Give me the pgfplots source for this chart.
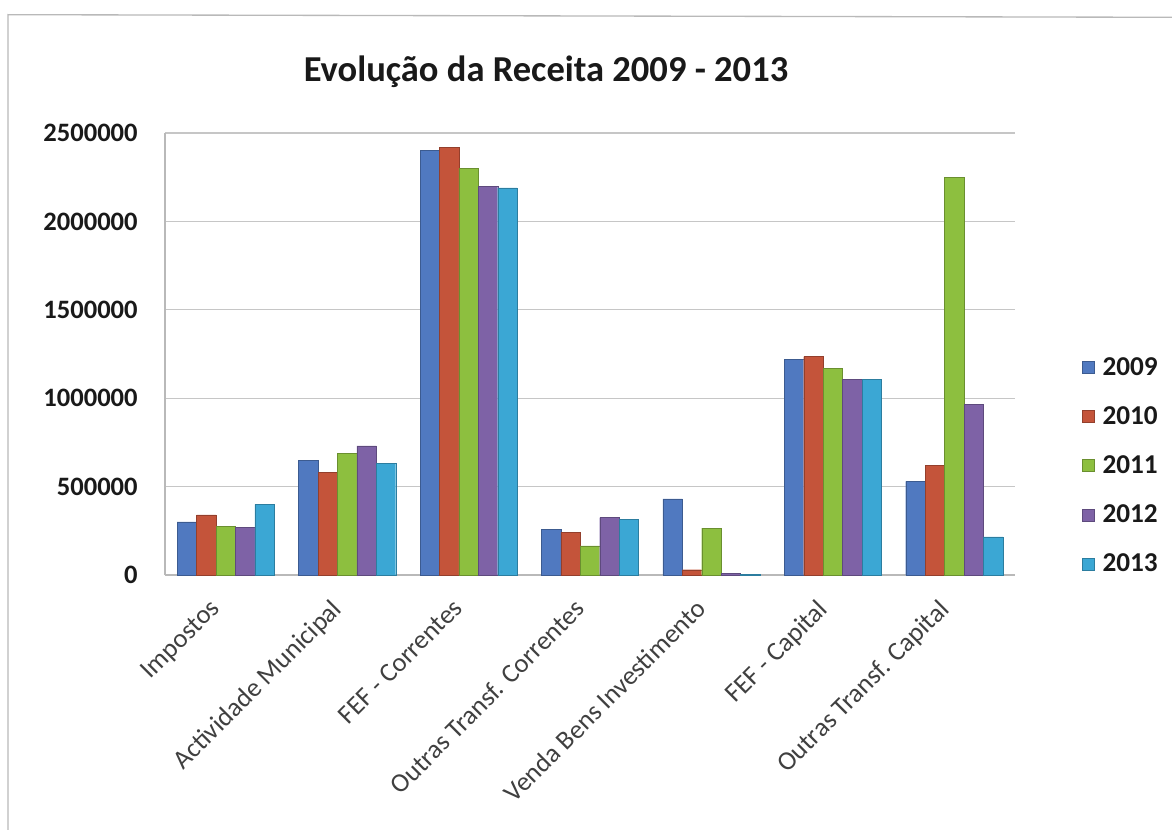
\documentclass[border=0pt]{standalone}
\usepackage{fontspec}
\setmainfont{Carlito}
\usepackage{pgfplots}
\usepackage{pgfplotstable}
\pgfplotsset{compat=1.18}
\definecolor{c09}{HTML}{5079C0}
\definecolor{c10}{HTML}{C4543A}
\definecolor{c11}{HTML}{8DBF3F}
\definecolor{c12}{HTML}{7E62A6}
\definecolor{c13}{HTML}{3BA7D4}
\pgfplotstableread{
x y09 y10 y11 y12 y13
0 300000 340000 275000 270000 400000
1 650000 580000 690000 730000 630000
2 2400000 2420000 2300000 2200000 2190000
3 260000 240000 165000 325000 315000
4 430000 30000 265000 10000 5000
5 1220000 1235000 1170000 1105000 1105000
6 530000 620000 2250000 965000 215000
}\data
\begin{document}
\begin{tikzpicture}
\useasboundingbox (0bp,0bp) rectangle (879bp,-622.5bp);
\draw[gray!55, line width=1bp] (6bp,-640bp) -- (6bp,-11bp) -- (890bp,-13bp);
\node[font=\fontsize{27.5}{33}\selectfont\bfseries, text=black!90] at (409.5bp,-54bp) {Evolução da Receita 2009 - 2013};
\begin{axis}[
  at={(123.75bp,-431.25bp)}, anchor=south west,
  scale only axis, width=637.5bp, height=331.5bp,
  ybar=0pt, bar width=0.16,
  xmin=-0.5, xmax=6.5, ymin=0, ymax=2500000,
  enlargelimits=false, clip=false,
  xtick={0,...,6},
  xticklabels={Impostos, Actividade Municipal, FEF - Correntes, Outras Transf. Correntes, Venda Bens Investimento, FEF - Capital, Outras Transf. Capital},
  ytick={0,500000,1000000,1500000,2000000,2500000},
  scaled y ticks=false,
  /pgf/number format/assume math mode=true,
  yticklabel style={/pgf/number format/fixed, /pgf/number format/1000 sep={}, font=\fontsize{20}{24}\selectfont\bfseries, text=black!90, xshift=-17bp},
  xticklabel style={rotate=45, anchor=north east, font=\fontsize{20}{24}\selectfont, text=black!75, xshift=-17.5bp, yshift=0.5bp},
  major tick length=0pt,
  axis x line*=bottom, axis y line*=left,
  axis line style={gray!55, line width=0.8bp},
  ymajorgrids, grid style={gray!45, line width=0.8bp},
  legend style={at={(1.074,0.505)}, anchor=north west, draw=none, fill=none,
    font=\fontsize{20.5}{24}\selectfont\bfseries, text=black!90, row sep=18bp, cells={anchor=west},
    /tikz/every odd column/.append style={column sep=4bp}},
  legend image code/.code={\fill[#1] (0bp,-4.5bp) rectangle (9bp,4.5bp);},
  every axis plot/.append style={line width=0.3bp},
]
\addplot[fill=c09, draw=c09!75!black] table[x=x,y=y09]{\data};
\addplot[fill=c10, draw=c10!75!black] table[x=x,y=y10]{\data};
\addplot[fill=c11, draw=c11!75!black] table[x=x,y=y11]{\data};
\addplot[fill=c12, draw=c12!75!black] table[x=x,y=y12]{\data};
\addplot[fill=c13, draw=c13!75!black] table[x=x,y=y13]{\data};
\legend{2009,2010,2011,2012,2013}
\end{axis}
\end{tikzpicture}
\end{document}
